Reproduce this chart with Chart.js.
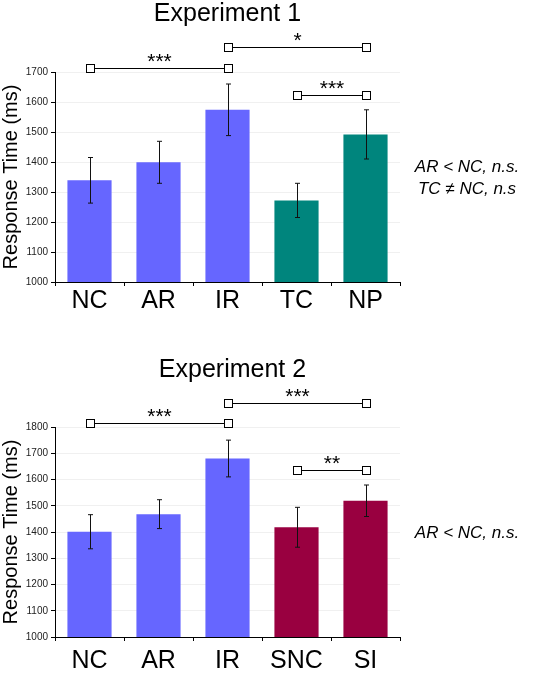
<!DOCTYPE html>
<html>
<head>
<meta charset="utf-8">
<title>Response Time – Experiments 1 and 2</title>
<script src="https://cdn.jsdelivr.net/npm/chart.js@4.4.1/dist/chart.umd.min.js"></script>
<style>
  html, body { margin: 0; padding: 0; background: #fff; }
  #wrap { position: relative; width: 544px; height: 675px; overflow: hidden; }
  #c1 { position: absolute; left: 0; top: 0; }
  #c2 { position: absolute; left: 0; top: 330px; }
</style>
</head>
<body>
<div id="wrap">
  <canvas id="c1" width="544" height="330"></canvas>
  <canvas id="c2" width="544" height="345"></canvas>
</div>
<script>
// ── Data ──────────────────────────────────────────────────────
const exp1Labels   = ['NC', 'AR', 'IR', 'TC', 'NP'];
const exp1Means    = [1339, 1399, 1574, 1272, 1492];
const exp1Errors   = [76, 70, 86, 57, 82];
// [from, to, y value, stars]
const exp1Brackets = [[0, 2, 1714, '***'], [2, 4, 1784, '*'], [3, 4, 1623, '***']];
const exp1Notes    = ['AR < NC, n.s.', 'TC \u2260 NC, n.s'];
const exp1Ticks    = [1000, 1700];

const exp2Labels   = ['NC', 'AR', 'IR', 'SNC', 'SI'];
const exp2Means    = [1401, 1468, 1680, 1418, 1519];
const exp2Errors   = [65, 55, 70, 76, 60];
const exp2Brackets = [[0, 2, 1815, '***'], [2, 4, 1893, '***'], [3, 4, 1638, '**']];
const exp2Notes    = ['AR < NC, n.s.'];
const exp2Ticks    = [1000, 1800];

const BLUE   = '#6666FF';
const TEAL   = '#00857D';
const MAROON = '#990040';
const FONT   = "'Liberation Sans', Arial, Helvetica, sans-serif";

// ── Title, error bars, significance brackets and side notes ──
const extrasPlugin = {
  id: 'extras',
  afterDatasetsDraw(chart, args, opts) {
    const { ctx, chartArea } = chart;
    const x = chart.scales.x, y = chart.scales.y;
    ctx.save();

    // title, centred over the plot area
    ctx.fillStyle = '#000';
    ctx.font = '25px ' + FONT;
    ctx.textAlign = 'center';
    ctx.textBaseline = 'middle';
    ctx.fillText(opts.title, (chartArea.left + chartArea.right) / 2 + opts.titleDx, opts.titleY);

    // error bars
    ctx.strokeStyle = '#111';
    ctx.lineWidth = 1;
    opts.means.forEach((m, i) => {
      const px = Math.round(x.getPixelForValue(i)) + 0.5;
      const top = y.getPixelForValue(m + opts.errors[i]);
      const bot = y.getPixelForValue(m - opts.errors[i]);
      ctx.beginPath();
      ctx.moveTo(px, top); ctx.lineTo(px, bot);
      ctx.moveTo(px - 2.5, top); ctx.lineTo(px + 2.5, top);
      ctx.moveTo(px - 2.5, bot); ctx.lineTo(px + 2.5, bot);
      ctx.stroke();
    });

    // brackets
    opts.brackets.forEach(([a, b, v, stars]) => {
      const xa = Math.round(x.getPixelForValue(a)) + 0.5;
      const xb = Math.round(x.getPixelForValue(b)) + 0.5;
      const py = Math.round(y.getPixelForValue(v)) + 0.5;
      ctx.strokeStyle = '#000';
      ctx.beginPath();
      ctx.moveTo(xa, py); ctx.lineTo(xb, py);
      ctx.stroke();
      [xa, xb].forEach(px => {
        ctx.fillStyle = '#fff';
        ctx.fillRect(px - 4, py - 4, 8, 8);
        ctx.strokeRect(px - 4, py - 4, 8, 8);
      });
      ctx.fillStyle = '#000';
      ctx.font = '21px ' + FONT;
      ctx.textAlign = 'center';
      ctx.textBaseline = 'alphabetic';
      ctx.fillText(stars, (xa + xb) / 2, py - 1);
    });

    // notes to the right
    ctx.font = 'italic 17px ' + FONT;
    ctx.fillStyle = '#000';
    ctx.textAlign = 'center';
    ctx.textBaseline = 'middle';
    const midY = (chartArea.top + chartArea.bottom) / 2 + 1;
    const n = opts.notes.length;
    opts.notes.forEach((t, i) => {
      ctx.fillText(t, 467, midY + (i - (n - 1) / 2) * 22);
    });
    ctx.restore();
  },
};

function makeChart(id, cfg) {
  return new Chart(document.getElementById(id), {
    type: 'bar',
    data: {
      labels: cfg.labels,
      datasets: [{
        data: cfg.means,
        backgroundColor: cfg.colors,
        borderWidth: 0,
        barPercentage: 1,
        categoryPercentage: 0.64,
      }],
    },
    plugins: [extrasPlugin],
    options: {
      responsive: false,
      animation: false,
      devicePixelRatio: 1,
      layout: { padding: { left: 0, right: 144, top: cfg.padTop, bottom: 0 } },
      plugins: {
        legend: { display: false },
        tooltip: { enabled: false },
        title: { display: false },
        extras: {
          title: cfg.title,
          titleY: cfg.titleY,
          titleDx: cfg.titleDx,
          means: cfg.means,
          errors: cfg.errors,
          brackets: cfg.brackets,
          notes: cfg.notes,
        },
      },
      scales: {
        x: {
          afterFit: s => { s.height = cfg.xHeight; },
          grid: { drawOnChartArea: false, drawTicks: true, tickLength: 4, tickColor: '#000', offset: true },
          border: { color: '#000', width: 1 },
          ticks: {
            color: '#000',
            padding: cfg.xPad,
            maxRotation: 0,
            font: { family: FONT, size: 25, lineHeight: 1 },
          },
        },
        y: {
          min: cfg.range[0],
          max: cfg.range[1],
          afterFit: s => { s.width = 55; },
          grid: { color: '#f0f0f0', tickLength: 4, tickColor: '#000' },
          border: { color: '#000', width: 1 },
          ticks: {
            stepSize: 100,
            color: '#222',
            padding: 3,
            font: { family: FONT, size: 10 },
            callback: v => String(v),
          },
          title: {
            display: true,
            text: 'Response Time (ms)',
            color: '#000',
            font: { family: FONT, size: 20, lineHeight: 1 },
            padding: { top: 1, bottom: 0 },
          },
        },
      },
    },
  });
}

makeChart('c1', {
  title: 'Experiment 1',
  labels: exp1Labels,
  means: exp1Means,
  errors: exp1Errors,
  brackets: exp1Brackets,
  notes: exp1Notes,
  range: exp1Ticks,
  colors: [BLUE, BLUE, BLUE, TEAL, TEAL],
  padTop: 72,
  titleY: 14,
  titleDx: 0,
  xHeight: 48,
  xPad: 3,
});

makeChart('c2', {
  title: 'Experiment 2',
  labels: exp2Labels,
  means: exp2Means,
  errors: exp2Errors,
  brackets: exp2Brackets,
  notes: exp2Notes,
  range: exp2Ticks,
  colors: [BLUE, BLUE, BLUE, MAROON, MAROON],
  padTop: 97,
  titleY: 40,
  titleDx: 5,
  xHeight: 38,
  xPad: 8,
});
</script>
</body>
</html>
